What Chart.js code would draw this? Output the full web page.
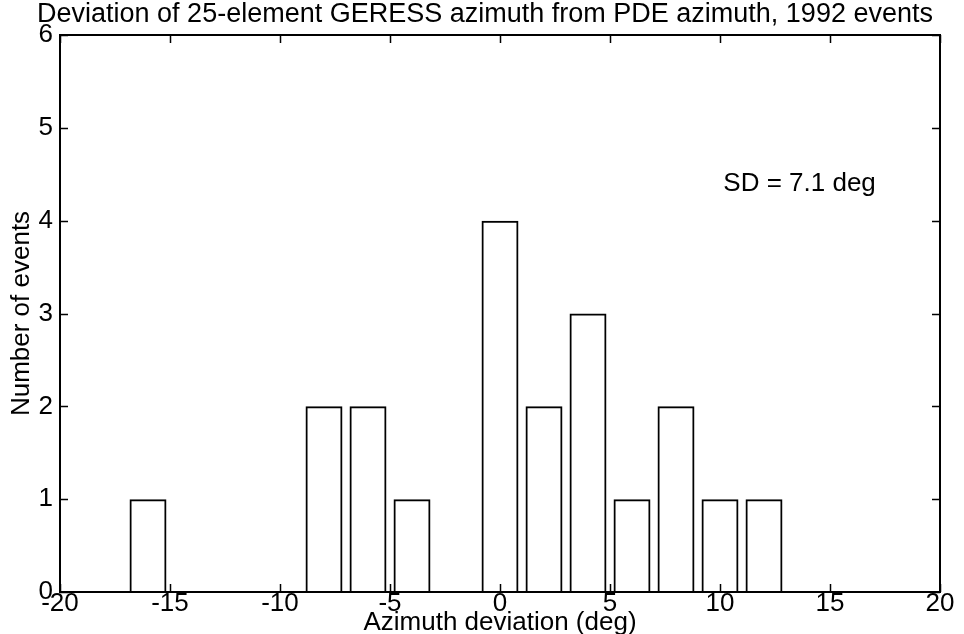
<!DOCTYPE html>
<html>
<head>
<meta charset="utf-8">
<script src="https://cdn.jsdelivr.net/npm/chart.js@4"></script>
<style>
  html, body { margin: 0; padding: 0; background: #fff; }
  #wrap { width: 964px; height: 634px; position: relative; }
</style>
</head>
<body>
<div id="wrap"><canvas id="c" width="964" height="634"></canvas></div>
<script>
// ---- data ----
const binCenters = [-16, -14, -12, -10, -8, -6, -4, -2, 0, 2, 4, 6, 8, 10, 12];
const eventCounts = [1, 0, 0, 0, 2, 2, 1, 0, 4, 2, 3, 1, 2, 1, 1];
const xTickValues = [-20, -15, -10, -5, 0, 5, 10, 15, 20];
const yTickValues = [0, 1, 2, 3, 4, 5, 6];
const titleText = 'Deviation of 25-element GERESS azimuth from PDE azimuth, 1992 events';
const xTitle = 'Azimuth deviation (deg)';
const yTitle = 'Number of events';
const noteText = 'SD = 7.1 deg';

const FONT = 'Liberation Sans, Arial, Helvetica, sans-serif';

const framePlugin = {
  id: 'frame',
  afterDraw(chart) {
    const ctx = chart.ctx;
    const a = chart.chartArea;
    const xs = chart.scales.x, ys = chart.scales.y;
    ctx.save();
    ctx.strokeStyle = '#000';
    ctx.lineWidth = 2;
    ctx.strokeRect(a.left, a.top, a.right - a.left, a.bottom - a.top);
    ctx.lineWidth = 1.5;
    const L = 8;
    ctx.beginPath();
    xTickValues.forEach(v => {
      const px = Math.round(xs.getPixelForValue(v)) + 0.5;
      ctx.moveTo(px, a.bottom); ctx.lineTo(px, a.bottom - L);
      ctx.moveTo(px, a.top); ctx.lineTo(px, a.top + L);
    });
    yTickValues.forEach(v => {
      const py = Math.round(ys.getPixelForValue(v)) + 0.5;
      ctx.moveTo(a.left, py); ctx.lineTo(a.left + L, py);
      ctx.moveTo(a.right, py); ctx.lineTo(a.right - L, py);
    });
    ctx.stroke();
    // annotation
    ctx.fillStyle = '#000';
    ctx.font = '26px ' + FONT;
    ctx.textAlign = 'left';
    ctx.textBaseline = 'middle';
    ctx.fillText(noteText, xs.getPixelForValue(10.15), ys.getPixelForValue(4.4));
    ctx.restore();
  }
};

new Chart(document.getElementById('c'), {
  type: 'bar',
  data: {
    datasets: [{
      data: binCenters.map((x, i) => ({ x: x, y: eventCounts[i] })),
      backgroundColor: 'rgba(255,255,255,0)',
      borderColor: '#000',
      borderWidth: 2,
      barPercentage: 0.84,
      categoryPercentage: 1.0
    }]
  },
  options: {
    responsive: false,
    animation: false,
    devicePixelRatio: 1,
    layout: { padding: { left: 30, right: 24, top: 0, bottom: 0 } },
    plugins: {
      legend: { display: false },
      tooltip: { enabled: false },
      title: {
        display: true,
        text: titleText,
        color: '#000',
        font: { family: FONT, size: 27, weight: 'normal', lineHeight: 1.0 },
        padding: { top: 1, bottom: 7 }
      }
    },
    scales: {
      x: {
        type: 'linear',
        offset: false,
        min: -20, max: 20,
        afterBuildTicks(scale) { scale.ticks = xTickValues.map(v => ({ value: v })); },
        afterFit(scale) { scale.height = 42; },
        grid: { display: false, drawTicks: false },
        border: { display: false },
        ticks: {
          color: '#000',
          padding: -1,
          maxRotation: 0,
          autoSkip: false,
          font: { family: FONT, size: 26, lineHeight: 1.0 }
        },
        title: {
          display: true,
          text: xTitle,
          color: '#000',
          font: { family: FONT, size: 26, lineHeight: 1.0 },
          padding: { top: 0, bottom: -2 }
        }
      },
      y: {
        type: 'linear',
        min: 0, max: 6,
        afterBuildTicks(scale) { scale.ticks = yTickValues.map(v => ({ value: v })); },
        afterFit(scale) { scale.width = 30; },
        grid: { display: false, drawTicks: false },
        border: { display: false },
        ticks: {
          color: '#000',
          padding: 7,
          autoSkip: false,
          font: { family: FONT, size: 26, lineHeight: 1.0 }
        },
        title: {
          display: true,
          text: yTitle,
          color: '#000',
          font: { family: FONT, size: 26, lineHeight: 1.0 },
          padding: { top: -21, bottom: 0 }
        }
      }
    }
  },
  plugins: [framePlugin]
});
</script>
</body>
</html>
